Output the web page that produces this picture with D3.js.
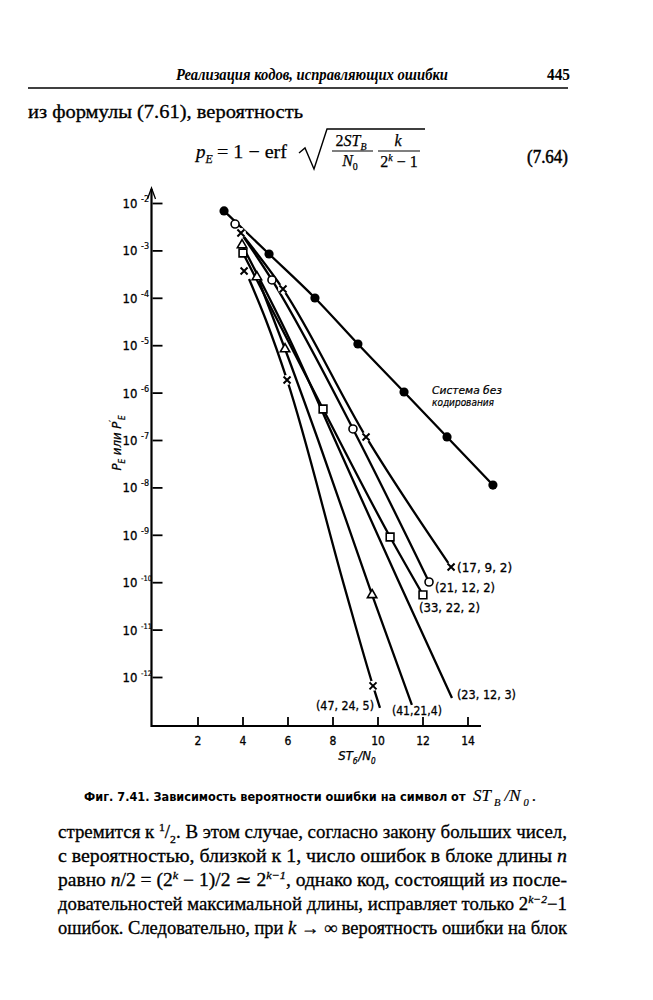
<!DOCTYPE html>
<html><head><meta charset="utf-8">
<script src="https://cdn.jsdelivr.net/npm/d3@7"></script>
<style>body{margin:0;background:#fff}</style>
</head><body>
<svg id="c" width="653" height="1000"></svg>
<script>
// ---------- data ----------
const xTicks = [2, 4, 6, 8, 10, 12, 14];
const yTickExps = [-2, -3, -4, -5, -6, -7, -8, -9, -10, -11, -12];

// uncoded system (filled circles)
const uncodedX = [3.18, 5.18, 7.22, 9.13, 11.18, 13.09, 15.13];
const uncodedY = [6.8e-3, 8.4e-4, 9.9e-5, 1.06e-5, 1.03e-6, 1.16e-7, 1.12e-8];

// (17, 9, 2) crosses
const c17MX = [3.93, 5.80, 9.49, 13.27];
const c17MY = [2.33e-3, 1.53e-4, 1.16e-7, 2.09e-10];
const c17LX = [3.93, 5.80, 9.49, 13.27];
const c17LY = [2.33e-3, 1.53e-4, 1.16e-7, 2.09e-10];

// (21, 12, 2) open circles
const c21MX = [3.67, 5.31, 8.91, 12.29];
const c21MY = [3.6e-3, 2.38e-4, 1.71e-7, 1.01e-10];
const c21LX = [3.93, 5.31, 8.91, 12.29];
const c21LY = [2.33e-3, 2.38e-4, 1.71e-7, 1.01e-10];

// (33, 22, 2) squares
const c33MX = [4.02, 7.58, 10.56, 12.02];
const c33MY = [8.8e-4, 4.5e-7, 9.0e-10, 5.4e-11];
const c33LX = [4.02, 7.58, 10.56, 12.02];
const c33LY = [8.8e-4, 4.5e-7, 9.0e-10, 5.4e-11];

// (23, 12, 3)
const c23MX = [3.98];
const c23MY = [1.30e-3];
const c23LX = [3.98, 6.11, 8.11, 10.91, 13.31];
const c23LY = [1.30e-3, 1.29e-5, 1.0e-7, 1.11e-10, 3.6e-13];

// (41, 21, 4) triangles
const c41MX = [4.64, 5.89, 9.76];
const c41MY = [2.75e-4, 8.3e-6, 5.4e-11];
const c41LX = [4.73, 5.89, 7.36, 9.76, 11.53];
const c41LY = [2.26e-4, 8.3e-6, 1.0e-7, 5.4e-11, 2.57e-13];

// (47, 24, 5) crosses
const c47MX = [4.07, 5.98, 9.80];
const c47MY = [3.67e-4, 1.85e-6, 6.5e-13];
const c47LX = [4.29, 5.04, 5.98, 8.51, 9.80, 10.11];
const c47LY = [2.49e-4, 3.4e-5, 1.85e-6, 8.7e-11, 6.5e-13, 2.24e-13];

const codeNames = ["(17, 9, 2)", "(21, 12, 2)", "(33, 22, 2)", "(23, 12, 3)", "(41,21,4)", "(47, 24, 5)"];

// ---------- setup ----------
const FD = "'Liberation Sans Narrow','DejaVu Sans Condensed','Roboto Condensed','Liberation Sans',sans-serif";
const FS = "'Liberation Serif','DejaVu Serif',serif";
const svg = d3.select("#c");
svg.append("rect").attr("width", 653).attr("height", 1000).attr("fill", "#fff");

function rich(sel, parts, base) {
  let off = 0;
  parts.forEach(p => {
    const s = p[0], k = p[1] || "", gap = p[2] || 0;
    const t = sel.append("tspan").text(s);
    let target = 0;
    if (k.includes("sup")) target = -0.38 * base;
    if (k.includes("sub")) target = 0.28 * base;
    t.attr("dy", target - off); off = target;
    if (gap) t.attr("dx", gap);
    if (k.includes("sup") || k.includes("sub")) t.attr("font-size", base * 0.62);
    if (k.startsWith("i")) t.attr("font-style", "italic");
  });
}

// pieces placed as separate texts, one after another (measured widths)
function row(g, x0, y0, parts, base, family) {
  let cx = x0;
  parts.forEach(p => {
    const s = p[0], k = p[1] || "", gap = p[2] || 0;
    const small = k.includes("sub") || k.includes("sup");
    const t = g.append("text").attr("x", cx + gap)
      .attr("y", y0 + (k.includes("sub") ? 0.28 * base : k.includes("sup") ? -0.38 * base : 0))
      .attr("font-family", family).attr("font-size", small ? base * 0.62 : base)
      .attr("font-style", k.startsWith("i") ? "italic" : "normal").text(s);
    cx += gap + t.node().getComputedTextLength();
  });
}

// ---------- page header ----------
svg.append("text").attr("x", 176).attr("y", 80).attr("font-family", FS)
  .attr("font-style", "italic").attr("font-weight", "bold").attr("font-size", 16)
  .attr("textLength", 272).attr("lengthAdjust", "spacingAndGlyphs")
  .text("Реализация кодов, исправляющих ошибки");
svg.append("text").attr("x", 547).attr("y", 80).attr("font-family", FS)
  .attr("font-weight", "bold").attr("font-size", 16)
  .attr("textLength", 23).attr("lengthAdjust", "spacingAndGlyphs").text("445");
svg.append("line").attr("x1", 28).attr("x2", 568).attr("y1", 88).attr("y2", 88)
  .attr("stroke", "#000").attr("stroke-width", 1.3);

svg.append("text").attr("x", 28).attr("y", 118).attr("font-family", FS).attr("font-size", 18)
  .attr("stroke", "#000").attr("stroke-width", 0.3)
  .attr("textLength", 275).attr("lengthAdjust", "spacingAndGlyphs")
  .text("из формулы (7.61), вероятность");

// ---------- formula (7.64) ----------
const fg = svg.append("g").attr("font-family", FS).attr("fill", "#000")
  .attr("stroke", "#000").attr("stroke-width", 0.25);
rich(fg.append("text").attr("x", 196).attr("y", 158).attr("font-size", 19),
  [["p", "i"], ["E", "isub"]], 19);
fg.append("text").attr("x", 217).attr("y", 158).attr("font-size", 19)
  .attr("textLength", 70).attr("lengthAdjust", "spacingAndGlyphs").text("= 1 − erf");
fg.append("path").attr("d", "M299,153 L305,148 L314,169 L327,129 L425,129")
  .attr("fill", "none").attr("stroke-width", 1.4);
rich(fg.append("text").attr("x", 351).attr("y", 146).attr("font-size", 16).attr("text-anchor", "middle"),
  [["2"], ["ST", "i"], ["B", "isub"]], 16);
fg.append("line").attr("x1", 332).attr("x2", 373).attr("y1", 151).attr("y2", 151).attr("stroke-width", 1.2);
rich(fg.append("text").attr("x", 350).attr("y", 166).attr("font-size", 16).attr("text-anchor", "middle"),
  [["N", "i"], ["0", "sub"]], 16);
fg.append("text").attr("x", 398).attr("y", 146).attr("font-size", 16).attr("font-style", "italic")
  .attr("text-anchor", "middle").text("k");
fg.append("line").attr("x1", 378).attr("x2", 420).attr("y1", 151).attr("y2", 151).attr("stroke-width", 1.2);
rich(fg.append("text").attr("x", 399).attr("y", 167).attr("font-size", 16).attr("text-anchor", "middle"),
  [["2"], ["k", "isup"], [" − 1"]], 16);
fg.append("text").attr("x", 527).attr("y", 163).attr("font-size", 18).attr("stroke-width", 0.5)
  .attr("textLength", 41).attr("lengthAdjust", "spacingAndGlyphs").text("(7.64)");

// ---------- chart ----------
const x = d3.scaleLinear().domain([0, 14]).range([152.5, 467.5]);
const y = d3.scaleLog().domain([1e-2, 1e-12]).range([203, 677]);
const baseY = 726;

const ax = svg.append("g").attr("transform", `translate(0,${baseY})`)
  .call(d3.axisBottom(x).tickValues(xTicks).tickSize(-9).tickPadding(10).tickSizeOuter(0));
ax.select(".domain").remove();
ax.selectAll("line").attr("stroke", "#000").attr("stroke-width", 1.8);
ax.selectAll("text").attr("font-family", FD).attr("font-size", 12).attr("fill", "#000")
  .attr("stroke", "#000").attr("stroke-width", 0.3);

const ay = svg.append("g").attr("transform", `translate(${x(0)},0)`)
  .call(d3.axisLeft(y).tickValues(yTickExps.map(e => Math.pow(10, e))).tickSize(-10).tickFormat(""));
ay.select(".domain").remove();
ay.selectAll("line").attr("stroke", "#000").attr("stroke-width", 1.8);

// y tick labels 10^-n
yTickExps.forEach(e => {
  svg.append("text").attr("x", x(0) - 15).attr("y", y(Math.pow(10, e)) + 5)
    .attr("font-family", FD).attr("font-size", 13).attr("text-anchor", "end")
    .attr("stroke", "#000").attr("stroke-width", 0.3).text("10");
  svg.append("text").attr("x", x(0) - 11.5).attr("y", y(Math.pow(10, e)) - 1)
    .attr("font-family", FD).attr("font-size", e <= -10 ? 7.5 : 9)
    .attr("stroke", "#000").attr("stroke-width", 0.2).text("-" + (-e));
});

// axis lines
svg.append("line").attr("x1", x(0) - 1).attr("x2", x(14.6)).attr("y1", baseY).attr("y2", baseY)
  .attr("stroke", "#000").attr("stroke-width", 2.2);
svg.append("line").attr("x1", x(0) - 1).attr("x2", x(0) - 1).attr("y1", baseY + 1).attr("y2", 189)
  .attr("stroke", "#000").attr("stroke-width", 2.2);
svg.append("path").attr("d", `M${x(0) - 5},199 L${x(0) - 1},188 L${x(0) + 3},199`)
  .attr("fill", "none").attr("stroke", "#000").attr("stroke-width", 1.3);

// axis titles
const yl = svg.append("text").attr("transform", "translate(121,443) rotate(-90)")
  .attr("font-family", FD).attr("font-size", 13).attr("font-style", "italic")
  .attr("text-anchor", "middle").attr("stroke", "#000").attr("stroke-width", 0.25);
rich(yl, [["P", "i"], ["E", "isub"], ["  или  ", "i"], ["P", "i"], ["′", "isup"], ["E", "isub"]], 13);

const xl = svg.append("text").attr("x", 357).attr("y", 760)
  .attr("font-family", FD).attr("font-size", 13).attr("font-style", "italic")
  .attr("text-anchor", "middle").attr("stroke", "#000").attr("stroke-width", 0.25);
rich(xl, [["ST", "i"], ["б", "isub"], ["/N", "i", 1], ["0", "isub"]], 13);

// series definitions
const series = [
  { mx: c17MX, my: c17MY, lx: c17LX, ly: c17LY, sym: "x", name: codeNames[0], anchor: "m", dx: 6, dy: 5, tl: 55 },
  { mx: c21MX, my: c21MY, lx: c21LX, ly: c21LY, sym: "o", name: codeNames[1], anchor: "m", dx: 6, dy: 10, tl: 60 },
  { mx: c33MX, my: c33MY, lx: c33LX, ly: c33LY, sym: "s", name: codeNames[2], anchor: "m", dx: -4, dy: 17, tl: 61 },
  { mx: c23MX, my: c23MY, lx: c23LX, ly: c23LY, sym: "t", name: codeNames[3], anchor: "l", dx: 5, dy: 1, tl: 59 },
  { mx: c41MX, my: c41MY, lx: c41LX, ly: c41LY, sym: "t", name: codeNames[4], anchor: "l", dx: -20, dy: 10, tl: 50 },
  { mx: c47MX, my: c47MY, lx: c47LX, ly: c47LY, sym: "x", name: codeNames[5], anchor: "m", dx: -57, dy: 24, tl: 58 }
];

const line = d3.line().x(d => x(d[0])).y(d => y(d[1])).curve(d3.curveMonotoneX);
const plot = svg.append("g");

// uncoded line
plot.append("path").datum(uncodedX.map((v, i) => [v, uncodedY[i]]))
  .attr("d", line).attr("fill", "none").attr("stroke", "#000").attr("stroke-width", 2.3);

series.forEach(s => {
  plot.append("path").datum(s.lx.map((v, i) => [v, s.ly[i]]))
    .attr("d", line).attr("fill", "none").attr("stroke", "#000").attr("stroke-width", 2.3);
});

// uncoded markers
plot.selectAll(".fc").data(uncodedX.map((v, i) => [v, uncodedY[i]])).enter()
  .append("circle").attr("cx", d => x(d[0])).attr("cy", d => y(d[1])).attr("r", 4.6).attr("fill", "#000");

function drawMarker(g, sym, px, py) {
  if (sym === "o") {
    g.append("circle").attr("cx", px).attr("cy", py).attr("r", 4).attr("fill", "#fff")
      .attr("stroke", "#000").attr("stroke-width", 1.6);
  } else if (sym === "s") {
    g.append("path").attr("d", d3.symbol(d3.symbolSquare, 60)()).attr("transform", `translate(${px},${py})`)
      .attr("fill", "#fff").attr("stroke", "#000").attr("stroke-width", 1.6);
  } else if (sym === "t") {
    g.append("path").attr("d", d3.symbol(d3.symbolTriangle, 38)()).attr("transform", `translate(${px},${py})`)
      .attr("fill", "#fff").attr("stroke", "#000").attr("stroke-width", 1.6);
  } else {
    g.append("circle").attr("cx", px).attr("cy", py).attr("r", 5).attr("fill", "#fff");
    g.append("path").attr("d", `M${px - 3.5},${py - 3.5}L${px + 3.5},${py + 3.5}M${px - 3.5},${py + 3.5}L${px + 3.5},${py - 3.5}`)
      .attr("stroke", "#000").attr("stroke-width", 2);
  }
}

series.forEach(s => {
  s.mx.forEach((v, i) => drawMarker(plot, s.sym, x(v), y(s.my[i])));
});

// series labels
series.forEach(s => {
  const n = s.anchor === "m" ? s.mx.length - 1 : s.lx.length - 1;
  const ax0 = s.anchor === "m" ? x(s.mx[n]) : x(s.lx[n]);
  const ay0 = s.anchor === "m" ? y(s.my[n]) : y(s.ly[n]);
  svg.append("text").attr("x", ax0 + s.dx).attr("y", ay0 + s.dy)
    .attr("font-family", FD).attr("font-size", 13)
    .attr("stroke", "#000").attr("stroke-width", 0.3)
    .attr("textLength", s.tl).attr("lengthAdjust", "spacingAndGlyphs").text(s.name);
});

// annotation for uncoded system
svg.append("text").attr("x", 432).attr("y", 394).attr("font-family", FD).attr("font-size", 10)
  .attr("font-style", "italic").attr("textLength", 70).attr("lengthAdjust", "spacingAndGlyphs")
  .attr("stroke", "#000").attr("stroke-width", 0.2).text("Система   без");
svg.append("text").attr("x", 432).attr("y", 406).attr("font-family", FD).attr("font-size", 10)
  .attr("font-style", "italic").attr("textLength", 62).attr("lengthAdjust", "spacingAndGlyphs")
  .attr("stroke", "#000").attr("stroke-width", 0.2).text("кодирования");

// ---------- caption ----------
const capMain = svg.append("text").attr("x", 84).attr("y", 801).attr("font-family", FD)
  .attr("font-size", 14).attr("font-weight", "bold")
  .text("Фиг. 7.41. Зависимость вероятности ошибки на символ от");
{
  const natural = capMain.node().getComputedTextLength();
  const fs = Math.min(14, 14 * 382 / natural);
  capMain.attr("font-size", fs);
}
const capG = svg.append("g").attr("stroke", "#000").attr("stroke-width", 0.2);
row(capG, 473, 801, [["ST", "i"], ["B", "isub", 3], ["/N", "i", 4], ["0", "isub", 3], [".", "", 3]], 17, FS);

// ---------- body text ----------
const bodyLines = [
  [["стремится к "], ["1", "sup"], ["/"], ["2", "sub"], [". В этом случае, согласно закону больших чисел,"]],
  [["с вероятностью, близкой к 1, число ошибок в блоке  длины "], ["n", "i"]],
  [["равно "], ["n", "i"], ["/2 = (2"], ["k", "isup"], [" − 1)/2 ≃ 2"], ["k−1", "isup"], [", однако код, состоящий из после-"]],
  [["довательностей максимальной длины, исправляет только 2"], ["k−2", "isup"], ["−1"]],
  [["ошибок. Следовательно, при "], ["k", "i"], [" → ∞ вероятность ошибки на блок"]]
];
bodyLines.forEach((parts, i) => {
  const t = svg.append("text").attr("x", 58).attr("y", 838 + i * 24)
    .attr("font-family", FS).attr("font-size", 18)
    .attr("stroke", "#000").attr("stroke-width", 0.3)
    .attr("textLength", 509).attr("lengthAdjust", "spacingAndGlyphs");
  rich(t, parts, 18);
});
</script>
</body></html>
